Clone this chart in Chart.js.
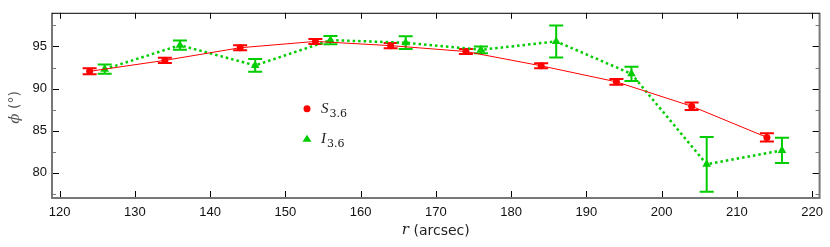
<!DOCTYPE html>
<html>
<head>
<meta charset="utf-8">
<script src="https://cdn.jsdelivr.net/npm/chart.js@4"></script>
<style>
  html, body { margin: 0; padding: 0; background: #fff; }
  #wrap { width: 830px; height: 247px; }
</style>
</head>
<body>
<div id="wrap"><canvas id="phiChart" width="830" height="247"></canvas></div>
<script>
// ===== DATA =====
const sRadius = [124, 134, 144, 154, 164, 174, 184, 194, 204, 214];
const sPhi    = [92.05, 93.35, 94.85, 95.6, 95.1, 94.4, 92.7, 90.8, 87.9, 84.2];
const sErr    = [0.35, 0.3, 0.3, 0.3, 0.3, 0.3, 0.3, 0.35, 0.45, 0.5];

const iRadius = [126, 136, 146, 156, 166, 176, 186, 196, 206, 216];
const iPhi    = [92.3, 95.15, 92.75, 95.75, 95.45, 94.6, 95.6, 91.75, 81.0, 82.65];
const iErr    = [0.55, 0.55, 0.75, 0.5, 0.75, 0.4, 1.9, 0.85, 3.25, 1.5];

const xTicks = [120, 130, 140, 150, 160, 170, 180, 190, 200, 210, 220];
const yTicks = [77.5, 80, 82.5, 85, 87.5, 90, 92.5, 95, 97.5];

const RED = '#ff0000';
const GREEN = '#00cc00';

function toPoints(xs, ys) {
    return xs.map((x, i) => ({ x: x, y: ys[i] }));
}

// ===== ERROR BARS =====
const errorBars = {
    id: 'errorBars',
    beforeDatasetsDraw(chart) {
        const ctx = chart.ctx;
        const xs = chart.scales.x, ys = chart.scales.y;
        const sets = [
            { xv: sRadius, yv: sPhi, ev: sErr, color: RED },
            { xv: iRadius, yv: iPhi, ev: iErr, color: GREEN }
        ];
        ctx.save();
        sets.forEach(s => {
            ctx.strokeStyle = s.color;
            ctx.lineWidth = 2;
            s.xv.forEach((xv, i) => {
                const px = xs.getPixelForValue(xv);
                const top = ys.getPixelForValue(s.yv[i] + s.ev[i]);
                const bot = ys.getPixelForValue(s.yv[i] - s.ev[i]);
                ctx.beginPath();
                ctx.moveTo(px, top); ctx.lineTo(px, bot);
                ctx.moveTo(px - 7, top); ctx.lineTo(px + 7, top);
                ctx.moveTo(px - 7, bot); ctx.lineTo(px + 7, bot);
                ctx.stroke();
            });
        });
        ctx.restore();
    }
};

// ===== FRAME, INWARD TICKS, TITLES, LEGEND =====
const frame = {
    id: 'frame',
    afterDraw(chart) {
        const ctx = chart.ctx;
        const a = chart.chartArea;
        const xs = chart.scales.x, ys = chart.scales.y;
        ctx.save();

        // ticks
        ctx.lineWidth = 1;
        ctx.strokeStyle = '#000';
        xTicks.forEach(v => {
            const px = Math.round(xs.getPixelForValue(v)) + 0.5;
            ctx.beginPath();
            ctx.moveTo(px, a.bottom); ctx.lineTo(px, a.bottom - 7);
            ctx.moveTo(px, a.top); ctx.lineTo(px, a.top + 6);
            ctx.stroke();
        });
        yTicks.forEach(v => {
            const py = Math.round(ys.getPixelForValue(v)) + 0.5;
            const len = (v % 5 === 0) ? 7 : 4;
            ctx.strokeStyle = (v % 5 === 0) ? '#000' : '#777';
            ctx.beginPath();
            ctx.moveTo(a.left, py); ctx.lineTo(a.left + len, py);
            ctx.moveTo(a.right, py); ctx.lineTo(a.right - len, py);
            ctx.stroke();
        });

        // frame
        ctx.strokeStyle = '#777';
        ctx.lineWidth = 2;
        ctx.beginPath();
        ctx.moveTo(a.left, a.top); ctx.lineTo(a.left, a.bottom);
        ctx.lineTo(a.right, a.bottom); ctx.lineTo(a.right, a.top);
        ctx.stroke();
        ctx.strokeStyle = '#000';
        ctx.lineWidth = 1;
        ctx.beginPath();
        ctx.moveTo(a.left, a.top + 0.5); ctx.lineTo(a.right, a.top + 0.5);
        ctx.stroke();

        // x title: r (arcsec)
        ctx.fillStyle = '#222';
        ctx.textBaseline = 'middle';
        const cx = (a.left + a.right) / 2;
        ctx.font = 'italic 15px "DejaVu Serif"';
        const rw = ctx.measureText('r').width;
        ctx.font = '14px "DejaVu Sans"';
        const tw = ctx.measureText(' (arcsec)').width;
        let sx = cx - (rw + tw) / 2;
        ctx.font = 'italic 15px "DejaVu Serif"';
        ctx.textAlign = 'left';
        ctx.fillText('r', sx, 230);
        ctx.font = '14px "DejaVu Sans"';
        ctx.fillText(' (arcsec)', sx + rw, 231);

        // y title: phi (deg)
        ctx.save();
        ctx.translate(15, (a.top + a.bottom) / 2 + 2);
        ctx.rotate(-Math.PI / 2);
        ctx.fillStyle = '#555';
        ctx.font = 'italic 15px "DejaVu Serif"';
        const pw = ctx.measureText('\u03D5').width;
        ctx.font = '14px "DejaVu Sans"';
        const dw = ctx.measureText(' (\u00B0)').width;
        ctx.font = 'italic 15px "DejaVu Serif"';
        ctx.fillText('\u03D5', -(pw + dw) / 2, 0);
        ctx.font = '14px "DejaVu Sans"';
        ctx.fillText(' (\u00B0)', -(pw + dw) / 2 + pw, 0);
        ctx.restore();

        // legend
        const lx = a.left + 255;
        const entries = [
            { y: a.top + 96, name: 'S', color: RED, style: 'circle' },
            { y: a.top + 126, name: 'I', color: GREEN, style: 'triangle' }
        ];
        entries.forEach(e => {
            ctx.fillStyle = e.color;
            ctx.beginPath();
            if (e.style === 'circle') {
                ctx.arc(lx, e.y, 3.5, 0, Math.PI * 2);
            } else {
                ctx.moveTo(lx, e.y - 4);
                ctx.lineTo(lx + 4.5, e.y + 3);
                ctx.lineTo(lx - 4.5, e.y + 3);
                ctx.closePath();
            }
            ctx.fill();
            ctx.fillStyle = '#222';
            ctx.font = 'italic 15px "Liberation Serif"';
            ctx.fillText(e.name, lx + 14, e.y);
            const nw = ctx.measureText(e.name).width;
            ctx.font = '11px "DejaVu Serif"';
            ctx.fillText('3.6', lx + 15 + nw, e.y + 5);
        });

        ctx.restore();
    }
};

new Chart(document.getElementById('phiChart'), {
    type: 'scatter',
    data: {
        datasets: [
            {
                label: 'S3.6',
                data: toPoints(sRadius, sPhi),
                showLine: true,
                borderColor: RED,
                borderWidth: 1,
                backgroundColor: RED,
                pointStyle: 'circle',
                pointRadius: 3.5,
                pointBorderWidth: 0
            },
            {
                label: 'I3.6',
                data: toPoints(iRadius, iPhi),
                showLine: true,
                borderColor: GREEN,
                borderWidth: 2.5,
                borderDash: [2.5, 3],
                backgroundColor: GREEN,
                pointStyle: 'triangle',
                pointRadius: 5,
                pointBorderWidth: 0
            }
        ]
    },
    options: {
        responsive: false,
        animation: false,
        layout: { padding: { left: 0, right: 10, top: 5, bottom: 0 } },
        plugins: {
            legend: { display: false },
            tooltip: { enabled: false }
        },
        scales: {
            x: {
                type: 'linear',
                min: 119,
                max: 221,
                afterBuildTicks: s => { s.ticks = xTicks.map(v => ({ value: v })); },
                afterFit: s => { s.height = 49; },
                grid: { display: false, drawTicks: false },
                border: { display: false },
                ticks: {
                    color: '#111',
                    padding: 7,
                    maxRotation: 0,
                    font: { family: '"Liberation Sans"', size: 13 }
                }
            },
            y: {
                type: 'linear',
                min: 77,
                max: 99,
                afterBuildTicks: s => { s.ticks = yTicks.map(v => ({ value: v })); },
                afterFit: s => { s.width = 52; },
                grid: { display: false, drawTicks: false },
                border: { display: false },
                ticks: {
                    color: '#111',
                    padding: 5,
                    font: { family: '"Liberation Sans"', size: 13 },
                    callback: v => (v % 5 === 0 ? String(v) : '')
                }
            }
        }
    },
    plugins: [errorBars, frame]
});
</script>
</body>
</html>
